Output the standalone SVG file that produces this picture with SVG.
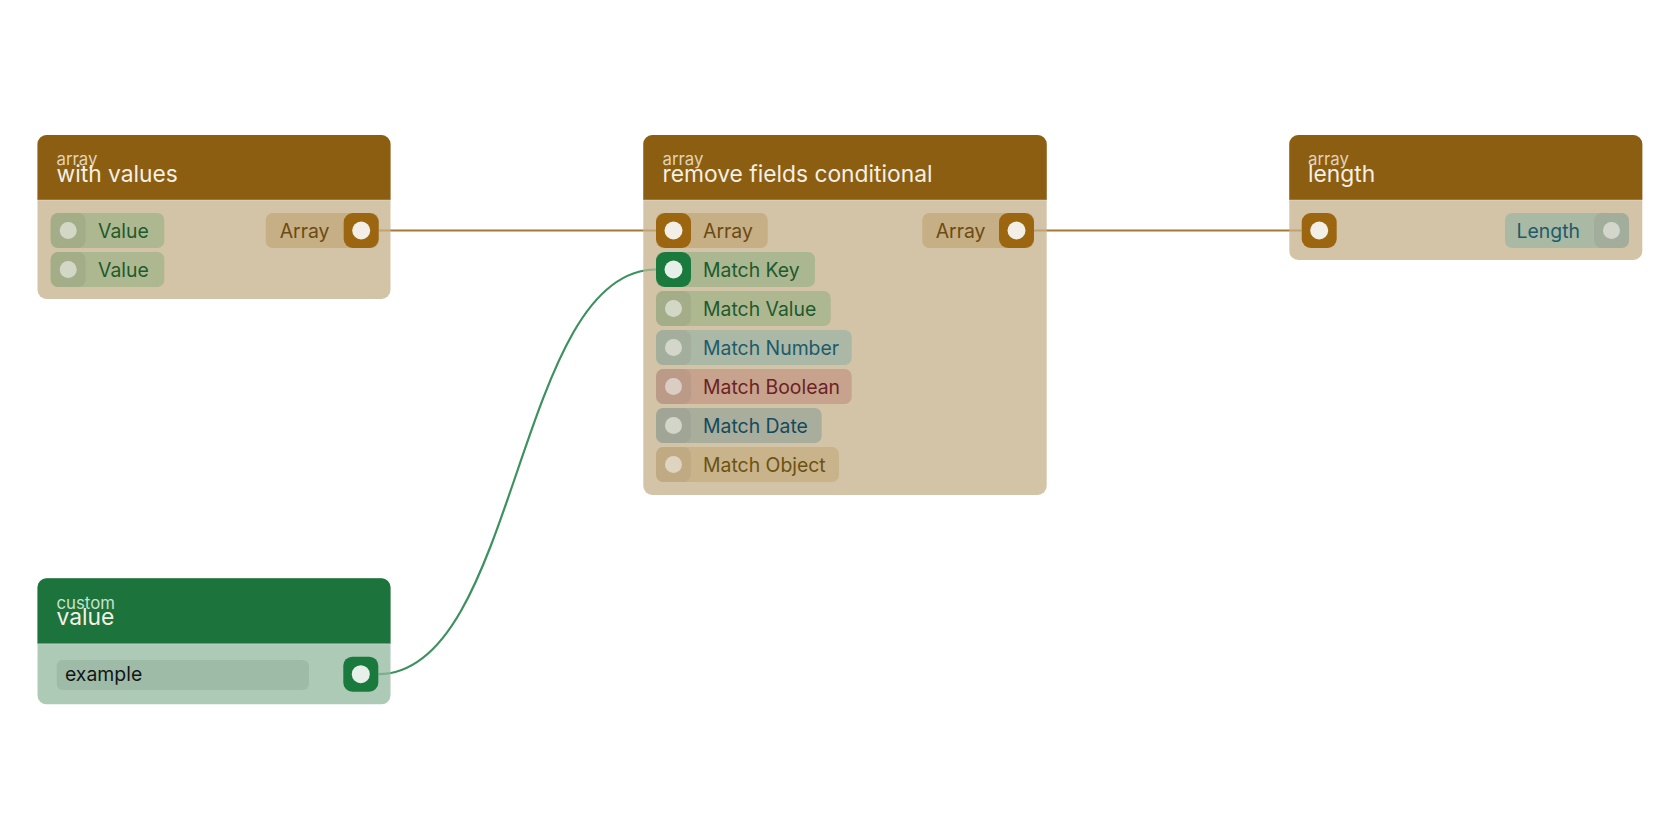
<svg xmlns="http://www.w3.org/2000/svg" width="1680" height="840" viewBox="0 0 1680 840">
<defs>
<style>
text{font-family:Inter,"Noto Sans","Liberation Sans",sans-serif}
.sub{font-size:16.8px}
.ttl{font-size:22.8px;fill:#f5efe4}
.bsub{fill:#e2d2b8}
.gsub{fill:#c9e2cf}
.lbl{font-size:19.4px}
.bodyB{fill:#d4c4a7}
.bodyG{fill:#adcab6}
.hdB{fill:#8c5e11}
.hdG{fill:#1d733c}
.sep{stroke:#ffffff;stroke-opacity:0.22;stroke-width:1.5}
.pB{fill:#9b660f}
.pG{fill:#1a7a3d}
.cB{fill:#f3eee6}
.cG{fill:#e6f0e9}
.tBr{fill:#6b4b12}
.tGr{fill:#1f5a2c}
.tTe{fill:#1d5b6b}
.wire{fill:none;stroke-width:2.2}
</style>
<mask id="wm" maskUnits="userSpaceOnUse" x="0" y="0" width="1680" height="840">
<rect x="0" y="0" width="1680" height="840" fill="#fff"/>
<rect x="37.5" y="135" width="353" height="164" fill="#707070"/>
<rect x="643.3" y="135" width="403.4" height="360" fill="#707070"/>
<rect x="1289.3" y="135" width="353" height="125" fill="#707070"/>
<rect x="37.5" y="578.3" width="353" height="126" fill="#707070"/>
</mask>
</defs>
<rect width="1680" height="840" fill="#ffffff"/>

<g id="node-with-values">
<rect class="bodyB" x="37.5" y="135" width="353" height="164" rx="9"/>
<path class="hdB" d="M37.5,200 V144 A9,9 0 0 1 46.5,135 H381.5 A9,9 0 0 1 390.5,144 V200 Z"/>
<line class="sep" x1="37.5" y1="200" x2="390.5" y2="200"/>
<text class="sub bsub" x="56.5" y="165">array</text>
<text class="ttl" x="56.5" y="181.5">with values</text>
<rect x="50.7" y="213" width="113.6" height="35" rx="7" fill="#adb891"/>
<rect x="50.7" y="213" width="35" height="35" rx="8" fill="#a3ae89"/>
<circle cx="68.2" cy="230.5" r="8.5" fill="#d3d7c5"/>
<text class="lbl tGr" x="98" y="237.5">Value</text>
<rect x="50.7" y="252" width="113.6" height="35" rx="7" fill="#adb891"/>
<rect x="50.7" y="252" width="35" height="35" rx="8" fill="#a3ae89"/>
<circle cx="68.2" cy="269.5" r="8.5" fill="#d3d7c5"/>
<text class="lbl tGr" x="98" y="276.5">Value</text>
<rect x="265.7" y="213" width="113" height="35" rx="7" fill="#c6ae85"/>
<rect class="pB" x="343.7" y="213" width="35" height="35" rx="9"/>
<circle class="cB" cx="361.2" cy="230.5" r="9"/>
<text class="lbl tBr" x="329.5" y="237.5" text-anchor="end">Array</text>
</g>

<g id="node-remove-fields-conditional">
<rect class="bodyB" x="643.3" y="135" width="403.4" height="360" rx="9"/>
<path class="hdB" d="M643.3,200 V144 A9,9 0 0 1 652.3,135 H1037.7 A9,9 0 0 1 1046.7,144 V200 Z"/>
<line class="sep" x1="643.3" y1="200" x2="1046.7" y2="200"/>
<text class="sub bsub" x="662.5" y="165">array</text>
<text class="ttl" x="662.5" y="181.5">remove fields conditional</text>

<rect x="656" y="213" width="111.7" height="35" rx="7" fill="#c6ae85"/>
<rect class="pB" x="656" y="213" width="35" height="35" rx="9"/>
<circle class="cB" cx="673.5" cy="230.5" r="9"/>
<text class="lbl tBr" x="703" y="237.5">Array</text>

<rect x="656" y="252" width="159" height="35" rx="7" fill="#aab790"/>
<rect class="pG" x="656" y="252" width="35" height="35" rx="9"/>
<circle class="cG" cx="673.5" cy="269.5" r="9"/>
<text class="lbl tGr" x="703" y="276.5">Match Key</text>

<rect x="656" y="291" width="174.7" height="35" rx="7" fill="#adb891"/>
<rect x="656" y="291" width="35" height="35" rx="8" fill="#a3ae89"/>
<circle cx="673.5" cy="308.5" r="8.5" fill="#d3d7c5"/>
<text class="lbl tGr" x="703" y="315.5">Match Value</text>

<rect x="656" y="330" width="195.7" height="35" rx="7" fill="#abb8a5"/>
<rect x="656" y="330" width="35" height="35" rx="8" fill="#a3ae9d"/>
<circle cx="673.5" cy="347.5" r="8.5" fill="#d3d7cb"/>
<text class="lbl tTe" x="703" y="354.5">Match Number</text>

<rect x="656" y="369" width="195.7" height="35" rx="7" fill="#c7a38e"/>
<rect x="656" y="369" width="35" height="35" rx="8" fill="#bb9b88"/>
<circle cx="673.5" cy="386.5" r="8.5" fill="#dccdc3"/>
<text class="lbl" x="703" y="393.5" fill="#6b2222">Match Boolean</text>

<rect x="656" y="408" width="165.7" height="35" rx="7" fill="#a9ad9c"/>
<rect x="656" y="408" width="35" height="35" rx="8" fill="#a0a595"/>
<circle cx="673.5" cy="425.5" r="8.5" fill="#d3d5cb"/>
<text class="lbl" x="703" y="432.5" fill="#154a5b">Match Date</text>

<rect x="656" y="447" width="183" height="35" rx="7" fill="#c9b38a"/>
<rect x="656" y="447" width="35" height="35" rx="8" fill="#c0aa84"/>
<circle cx="673.5" cy="464.5" r="8.5" fill="#ded4bf"/>
<text class="lbl" x="703" y="471.5" fill="#6b5213">Match Object</text>

<rect x="922.3" y="213" width="111.7" height="35" rx="7" fill="#c6ae85"/>
<rect class="pB" x="999" y="213" width="35" height="35" rx="9"/>
<circle class="cB" cx="1016.5" cy="230.5" r="9"/>
<text class="lbl tBr" x="985.5" y="237.5" text-anchor="end">Array</text>
</g>

<g id="node-length">
<rect class="bodyB" x="1289.3" y="135" width="353" height="125" rx="9"/>
<path class="hdB" d="M1289.3,200 V144 A9,9 0 0 1 1298.3,135 H1633.3 A9,9 0 0 1 1642.3,144 V200 Z"/>
<line class="sep" x1="1289.3" y1="200" x2="1642.3" y2="200"/>
<text class="sub bsub" x="1308" y="165">array</text>
<text class="ttl" x="1308" y="181.5">length</text>
<rect class="pB" x="1301.7" y="213" width="35" height="35" rx="9"/>
<circle class="cB" cx="1319.2" cy="230.5" r="9"/>
<rect x="1505" y="213" width="124" height="35" rx="7" fill="#a9b9a3"/>
<rect x="1594" y="213" width="35" height="35" rx="8" fill="#a2ae9b"/>
<circle cx="1611.5" cy="230.5" r="8.5" fill="#d3d7cb"/>
<text class="lbl tTe" x="1580" y="237.5" text-anchor="end">Length</text>
</g>

<g id="node-custom-value">
<rect class="bodyG" x="37.5" y="578.3" width="353" height="126" rx="9"/>
<path class="hdG" d="M37.5,643.8 V587.3 A9,9 0 0 1 46.5,578.3 H381.5 A9,9 0 0 1 390.5,587.3 V643.8 Z"/>
<line class="sep" x1="37.5" y1="643.8" x2="390.5" y2="643.8"/>
<text class="sub gsub" x="56.5" y="609">custom</text>
<text class="ttl" x="56.5" y="625">value</text>
<rect x="56.7" y="660" width="252.3" height="30" rx="6" fill="#9dbba7"/>
<text class="lbl" x="65" y="681" fill="#151515">example</text>
<rect class="pG" x="343.3" y="656.7" width="35" height="35" rx="9"/>
<circle class="cG" cx="360.8" cy="674.2" r="9"/>
</g>

<g id="connectors" mask="url(#wm)">
<path class="wire" stroke="#a67835" d="M378.7,230.5 H656"/>
<path class="wire" stroke="#a67835" d="M1034,230.5 H1301.7"/>
<path class="wire" stroke="#3d9160" d="M378.3,674.2 C518,674.2 516,269.5 656,269.5"/>
</g>
</svg>
